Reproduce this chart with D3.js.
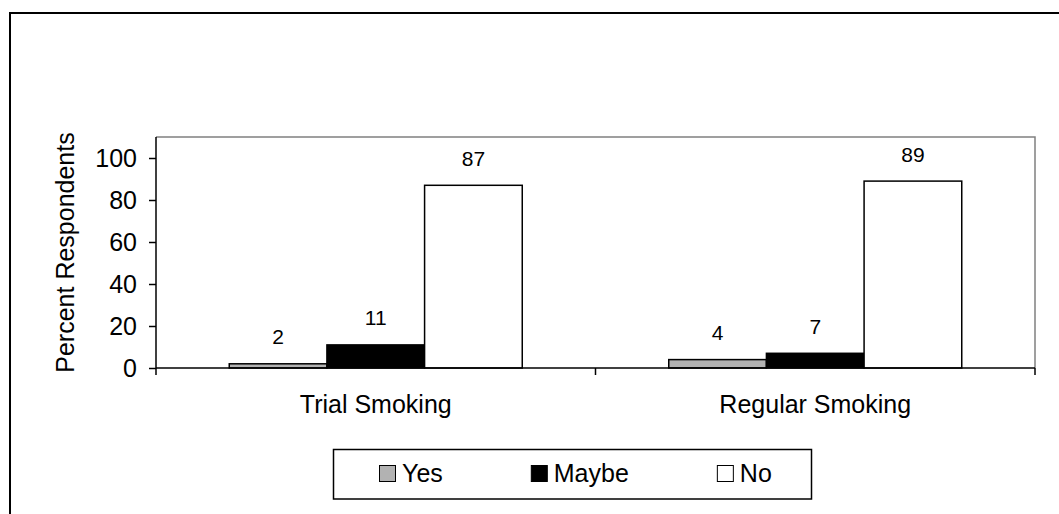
<!DOCTYPE html>
<html>
<head>
<meta charset="utf-8">
<script src="https://cdn.jsdelivr.net/npm/d3@7"></script>
<style>
  html, body { margin: 0; padding: 0; background: #fff; }
  svg { display: block; font-family: "Liberation Sans", Arial, sans-serif; }
</style>
</head>
<body>
<svg id="chart" width="1059" height="514"></svg>
<script>
// Survey responses by smoking type
const categories = ["Trial Smoking", "Regular Smoking"];
const seriesNames = ["Yes", "Maybe", "No"];
const yesValues = [2, 4];
const maybeValues = [11, 7];
const noValues = [87, 89];
const yTicks = [0, 20, 40, 60, 80, 100];
const seriesFills = { Yes: "#b2b2b2", Maybe: "#000000", No: "#ffffff" };

const seriesValues = { Yes: yesValues, Maybe: maybeValues, No: noValues };

const svg = d3.select("#chart");
const fontSize = 25;

// outer chart frame
svg.append("rect")
  .attr("x", 10).attr("y", 13)
  .attr("width", 1060).attr("height", 520)
  .attr("fill", "none").attr("stroke", "#000").attr("stroke-width", 2);

const plot = { left: 156, right: 1035, top: 137, bottom: 368 };

const x0 = d3.scaleBand().domain(categories).range([plot.left, plot.right]).padding(0);
const x1 = d3.scaleBand().domain(seriesNames).range([0, x0.bandwidth()])
  .paddingInner(0).paddingOuter(0.75);
const y = d3.scaleLinear().domain([0, 110]).range([plot.bottom, plot.top]);

// plot area frame (top and right edges)
svg.append("path")
  .attr("d", `M${plot.left},${plot.top}H${plot.right}V${plot.bottom}`)
  .attr("fill", "none").attr("stroke", "#808080").attr("stroke-width", 1.5);

// bars
const groups = svg.append("g").selectAll("g")
  .data(categories).join("g")
  .attr("transform", d => `translate(${x0(d)},0)`);

groups.selectAll("rect")
  .data((c, i) => seriesNames.map(s => ({ s, v: seriesValues[s][i] })))
  .join("rect")
  .attr("x", d => x1(d.s))
  .attr("y", d => y(d.v))
  .attr("width", x1.bandwidth())
  .attr("height", d => y(0) - y(d.v))
  .attr("fill", d => seriesFills[d.s])
  .attr("stroke", "#000").attr("stroke-width", 1.5);

// value labels
groups.selectAll("text")
  .data((c, i) => seriesNames.map(s => ({ s, v: seriesValues[s][i] })))
  .join("text")
  .attr("x", d => x1(d.s) + x1.bandwidth() / 2)
  .attr("y", d => y(d.v) - 19.5)
  .attr("text-anchor", "middle")
  .attr("font-size", 21)
  .attr("fill", "#000")
  .text(d => d.v);

// y axis
const yAxis = svg.append("g")
  .attr("transform", `translate(${plot.left},0)`)
  .call(d3.axisLeft(y).tickValues(yTicks).tickSize(7).tickPadding(12).tickSizeOuter(0));
yAxis.select(".domain").attr("stroke", "#000").attr("stroke-width", 1.5)
  .attr("d", `M0,${plot.top}V${plot.bottom}`);
yAxis.selectAll(".tick line").attr("stroke", "#000").attr("stroke-width", 1.5);
yAxis.selectAll(".tick text").attr("font-size", fontSize).attr("fill", "#000")
  .attr("font-family", "Liberation Sans, Arial, sans-serif");

// x axis with tick marks at group boundaries
const xAxis = svg.append("g").attr("transform", `translate(0,${plot.bottom})`);
xAxis.append("line")
  .attr("x1", plot.left).attr("x2", plot.right)
  .attr("stroke", "#000").attr("stroke-width", 1.5);
const boundaries = categories.map(c => x0(c)).concat([x0(categories[categories.length - 1]) + x0.bandwidth()]);
xAxis.selectAll("line.tick")
  .data(boundaries).join("line")
  .attr("class", "tick")
  .attr("x1", d => d).attr("x2", d => d)
  .attr("y1", 0).attr("y2", 7)
  .attr("stroke", "#000").attr("stroke-width", 1.5);
xAxis.selectAll("text")
  .data(categories).join("text")
  .attr("x", d => x0(d) + x0.bandwidth() / 2)
  .attr("y", 45)
  .attr("text-anchor", "middle")
  .attr("font-size", fontSize)
  .attr("fill", "#000")
  .text(d => d);

// y axis title
svg.append("text")
  .attr("transform", `translate(74,${(plot.top + plot.bottom) / 2}) rotate(-90)`)
  .attr("text-anchor", "middle")
  .attr("font-size", fontSize)
  .attr("fill", "#000")
  .text("Percent Respondents");

// legend: items laid out left to right by their text widths
const legend = svg.append("g");
legend.append("rect")
  .attr("x", 333.5).attr("y", 449.5)
  .attr("width", 478).attr("height", 49.5)
  .attr("fill", "#fff").attr("stroke", "#000").attr("stroke-width", 1.5);
const items = legend.selectAll("g.item")
  .data(seriesNames).join("g")
  .attr("class", "item");
items.append("rect")
  .attr("x", 0.5).attr("y", 0.5)
  .attr("width", 16).attr("height", 16)
  .attr("fill", d => seriesFills[d])
  .attr("stroke", "#000").attr("stroke-width", 1);
items.append("text")
  .attr("x", 23).attr("y", 16.5)
  .attr("font-size", fontSize)
  .attr("fill", "#000")
  .text(d => d);
let cursor = 379;
items.each(function () {
  const g = d3.select(this);
  g.attr("transform", `translate(${cursor},465)`);
  cursor += 23 + g.select("text").node().getComputedTextLength() + 88;
});
</script>
</body>
</html>
